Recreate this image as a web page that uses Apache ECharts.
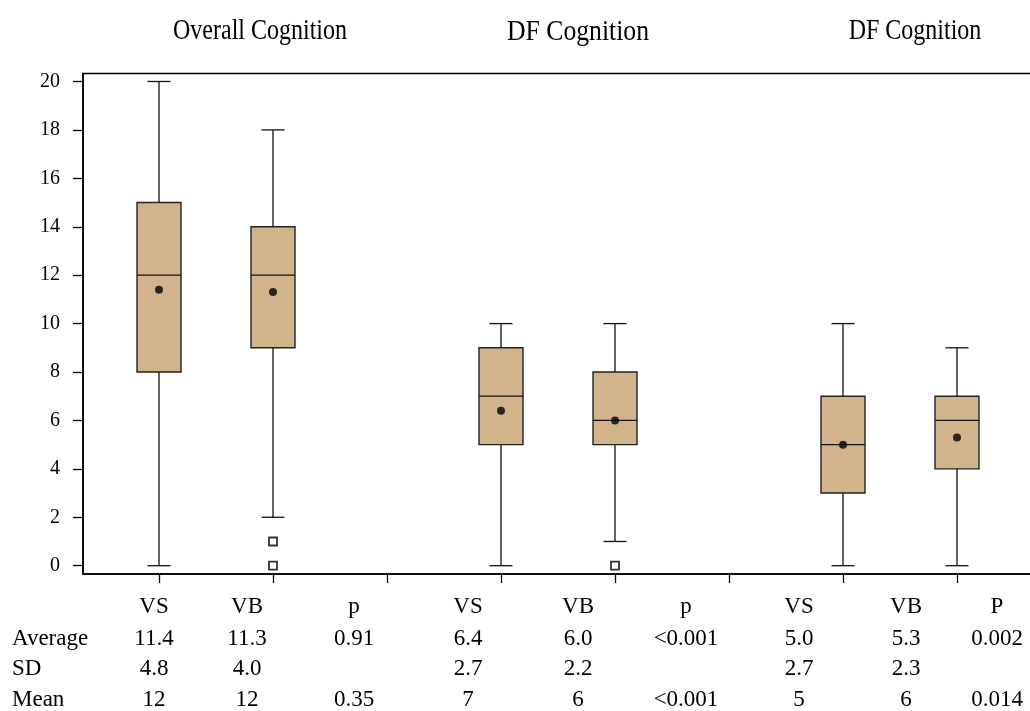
<!DOCTYPE html>
<html>
<head>
<meta charset="utf-8">
<script src="https://cdn.jsdelivr.net/npm/echarts@6/dist/echarts.min.js"></script>
<style>
html,body{margin:0;padding:0;background:#fff;}
#chart{width:1030px;height:711px;}
</style>
</head>
<body>
<div id="chart"></div>
<script>
// ---- data ----
const groupTitles = ['Overall Cognition', 'DF Cognition', 'DF Cognition'];
const vsPositions = [1, 4, 7];
const vbPositions = [2, 5, 8];
// [min, Q1, median, Q3, max]
const vsBoxes = [[0, 8, 12, 15, 20], [0, 5, 7, 9, 10], [0, 3, 5, 7, 10]];
const vbBoxes = [[2, 9, 12, 14, 18], [1, 5, 6, 8, 10], [0, 4, 6, 7, 9]];
const vsMeans = [11.4, 6.4, 5.0];
const vbMeans = [11.3, 6.0, 5.3];
const vbOutliers = [[1, 0], [0], []];
const yTicks = [0, 2, 4, 6, 8, 10, 12, 14, 16, 18, 20];
const xTicks = [1, 2, 3, 4, 5, 6, 7, 8];
const tableHeader = ['VS', 'VB', 'p', 'VS', 'VB', 'p', 'VS', 'VB', 'P'];
const rowLabels = ['Average', 'SD', 'Mean'];
const averageRow = ['11.4', '11.3', '0.91', '6.4', '6.0', '<0.001', '5.0', '5.3', '0.002'];
const sdRow = ['4.8', '4.0', '', '2.7', '2.2', '', '2.7', '2.3', ''];
const meanRow = ['12', '12', '0.35', '7', '6', '<0.001', '5', '6', '0.014'];

// ---- build ----
const boxData = [];
vsBoxes.forEach((b, i) => boxData.push([vsPositions[i]].concat(b)));
vbBoxes.forEach((b, i) => boxData.push([vbPositions[i]].concat(b)));
const meanData = [];
vsMeans.forEach((m, i) => meanData.push([vsPositions[i], m]));
vbMeans.forEach((m, i) => meanData.push([vbPositions[i], m]));
const outlierData = [];
vbOutliers.forEach((arr, i) => arr.forEach(v => outlierData.push([vbPositions[i], v])));

const SERIF = '"Liberation Serif", "Times New Roman", serif';
const BOXW = 44, CAPW = 23;

function renderBox(params, api) {
  const x = api.value(0);
  const pMin = api.coord([x, api.value(1)]);
  const pQ1 = api.coord([x, api.value(2)]);
  const pMed = api.coord([x, api.value(3)]);
  const pQ3 = api.coord([x, api.value(4)]);
  const pMax = api.coord([x, api.value(5)]);
  const cx = pMed[0];
  const ls = {stroke: '#111', lineWidth: 1.3};
  return {
    type: 'group',
    children: [
      {type: 'line', shape: {x1: cx, y1: pMax[1], x2: cx, y2: pQ3[1]}, style: ls},
      {type: 'line', shape: {x1: cx, y1: pQ1[1], x2: cx, y2: pMin[1]}, style: ls},
      {type: 'line', shape: {x1: cx - CAPW / 2, y1: pMax[1], x2: cx + CAPW / 2, y2: pMax[1]}, style: ls},
      {type: 'line', shape: {x1: cx - CAPW / 2, y1: pMin[1], x2: cx + CAPW / 2, y2: pMin[1]}, style: ls},
      {type: 'rect', shape: {x: cx - BOXW / 2, y: pQ3[1], width: BOXW, height: pQ1[1] - pQ3[1]},
        style: {fill: '#D2B48C', stroke: '#222', lineWidth: 1.4}},
      {type: 'line', shape: {x1: cx - BOXW / 2, y1: pMed[1], x2: cx + BOXW / 2, y2: pMed[1]}, style: ls}
    ]
  };
}

const graphics = [];
const titleSpecs = [
  {x: 260, y: 31, sx: 0.8},
  {x: 578, y: 32.5, sx: 0.856},
  {x: 915, y: 31, sx: 0.8}
];
groupTitles.forEach((t, i) => {
  graphics.push({
    type: 'text', x: titleSpecs[i].x, y: titleSpecs[i].y, scaleX: titleSpecs[i].sx,
    style: {text: t, x: 0, y: 0, align: 'center', verticalAlign: 'middle', fill: '#000',
      font: '30px ' + SERIF}
  });
});
const colX = [154, 247, 354, 468, 578, 686, 799, 906, 997];
const rowY = [607, 639, 669, 700];
const tableRows = [averageRow, sdRow, meanRow];
tableHeader.forEach((h, j) => {
  graphics.push({type: 'text', style: {text: h, x: colX[j], y: rowY[0], align: 'center', verticalAlign: 'middle', fill: '#000', font: '23px ' + SERIF}});
});
tableRows.forEach((row, r) => {
  graphics.push({type: 'text', style: {text: rowLabels[r], x: 12, y: rowY[r + 1], align: 'left', verticalAlign: 'middle', fill: '#000', font: '23px ' + SERIF}});
  row.forEach((v, j) => {
    if (v === '') return;
    graphics.push({type: 'text', style: {text: v, x: colX[j], y: rowY[r + 1], align: 'center', verticalAlign: 'middle', fill: '#000', font: '23px ' + SERIF}});
  });
});

const xMin = 38 / 114;
const gridW = 962;
const option = {
  animation: false,
  backgroundColor: '#fff',
  grid: {left: 83, top: 73.5, width: gridW, height: 500.5, outerBoundsMode: 'none', containLabel: false,
    show: true, borderColor: '#000', borderWidth: 1.5, backgroundColor: 'transparent'},
  xAxis: {
    type: 'value', min: xMin, max: xMin + gridW / 114,
    splitLine: {show: false},
    axisLine: {show: true, onZero: false, lineStyle: {color: '#000', width: 1.5}},
    axisTick: {show: true, inside: false, length: 9, customValues: xTicks, lineStyle: {color: '#000', width: 1.3}},
    axisLabel: {show: false}
  },
  yAxis: {
    type: 'value', min: -0.343, max: 20.33,
    splitLine: {show: false},
    axisLine: {show: true, onZero: false, lineStyle: {color: '#000', width: 1.5}},
    axisTick: {show: true, inside: false, length: 10, customValues: yTicks, lineStyle: {color: '#000', width: 1.3}},
    axisLabel: {show: true, margin: 23, customValues: yTicks, color: '#000', fontSize: 20, fontFamily: SERIF}
  },
  series: [
    {type: 'custom', renderItem: renderBox, data: boxData, encode: {x: 0, y: [1, 2, 3, 4, 5]}, z: 2},
    {type: 'scatter', data: meanData, symbol: 'circle', symbolSize: 8, itemStyle: {color: '#000'}, z: 3},
    {type: 'scatter', data: outlierData, symbol: 'rect', symbolSize: 8, itemStyle: {color: '#fff', borderColor: '#000', borderWidth: 1.8}, z: 3}
  ],
  graphic: graphics
};
const chart = echarts.init(document.getElementById('chart'), null, {renderer: 'canvas'});
chart.setOption(option);
</script>
</body>
</html>
